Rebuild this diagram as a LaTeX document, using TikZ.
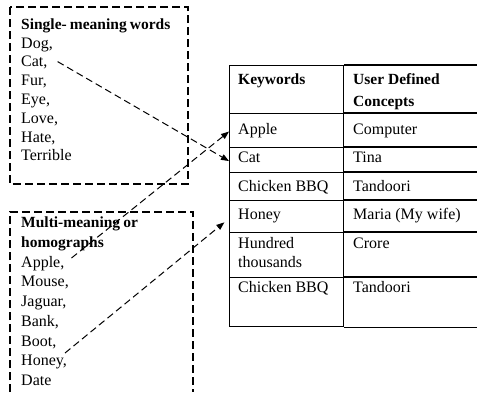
\documentclass[tikz,border=0pt]{standalone}
\usepackage{fontspec}
\setmainfont{Liberation Serif}
\usetikzlibrary{arrows.meta}
\begin{document}
\begin{tikzpicture}[x=1pt,y=-1pt,
  txt/.style={anchor=west,inner sep=0pt,text height=11.5pt,text depth=3pt,font=\fontsize{16}{18}\selectfont},
  btxt/.style={txt,font=\fontsize{15.5}{18}\selectfont\bfseries},
  wbox/.style={draw,line width=1.1pt,dash pattern=on 8pt off 4pt},
  conn/.style={draw,line width=1pt,dash pattern=on 7pt off 4pt,-{Triangle[length=8pt,width=6pt]}},
  cell/.style={draw,line width=1.1pt,rectangle,inner sep=0pt,anchor=north west,minimum width=114pt},
  tline/.style={draw,line width=1.1pt}]
\useasboundingbox (0,0) rectangle (477,392);

% single-meaning box
\draw[wbox] (10,7) rectangle (188,184);
\node[btxt] (h1) at (21,25) {\spaceskip=0.2em Single- meaning words};
\node[txt] (dog) at (21,43.8) {Dog,};
\node[txt] (cat) at (21,62.6) {Cat,};
\node[txt] (fur) at (21,81.4) {Fur,};
\node[txt] (eye) at (21,100.2) {Eye,};
\node[txt] (love) at (21,119) {Love,};
\node[txt] (hate) at (21,137.8) {Hate,};
\node[txt] (terr) at (21,156.6) {Terrible};

% multi-meaning box
\draw[wbox] (10,392) -- (10,212) -- (193,212) -- (193,392);
\node[btxt] (h2a) at (21,223) {\spaceskip=0.2em Multi-meaning or};
\node[btxt] (h2b) at (21,243) {homographs};
\node[txt] (apple) at (21,263) {Apple,};
\node[txt] (mouse) at (21,282) {Mouse,};
\node[txt] (jag) at (21,302) {Jaguar,};
\node[txt] (bank) at (21,322) {Bank,};
\node[txt] (boot) at (21,342) {Boot,};
\node[txt] (honey) at (21,361) {Honey,};
\node[txt] (date) at (21,381) {Date};

% table: keyword column cells
\coordinate (redge) at (477,65);
\node[cell,minimum height=48pt] (khead) at (229,65) {};
\node[cell,minimum height=34pt] (kapple) at (229,113) {};
\node[cell,minimum height=25pt] (kcat) at (229,147) {};
\node[cell,minimum height=28pt] (kchick) at (229,172) {};
\node[cell,minimum height=32pt] (khoney) at (229,200) {};
\node[cell,minimum height=45pt] (khund) at (229,232) {};
\node[cell,minimum height=49pt] (kchick2) at (229,277) {};
% concept column lines
\foreach \c in {khead,kapple,kcat,kchick,khoney,khund,kchick2}
  \draw[tline] (\c.north east) -- (\c.north east -| redge);
\draw[tline] (kchick2.south east) -- (kchick2.south east -| redge);

% table texts
\node[btxt] (t1) at (238,80) {Keywords};
\node[btxt] (t2) at (353,80) {User Defined};
\node[btxt] (t2b) at (353,102) {Concepts};
\node[txt] (ta) at (238,130) {Apple};
\node[txt] (tb) at (353,130) {Computer};
\node[txt] (tc) at (238,158) {Cat};
\node[txt] (td) at (353,158) {Tina};
\node[txt] (te) at (238,187) {Chicken BBQ};
\node[txt] (tf) at (353,187) {Tandoori};
\node[txt] (tg) at (238,215) {Honey};
\node[txt] (th) at (353,215) {Maria (My wife)};
\node[txt] (ti) at (238,244) {Hundred};
\node[txt] (ti2) at (238,263) {thousands};
\node[txt] (tj) at (353,244) {Crore};
\node[txt] (tk) at (238,288) {Chicken BBQ};
\node[txt] (tl) at (353,288) {Tandoori};

% connectors
\draw[conn] ([xshift=10pt,yshift=1pt]cat.east) -- ([yshift=-1pt]kcat.west);
\draw[conn] ([xshift=7pt,yshift=5pt]apple.east) -- ([yshift=-1pt]kapple.west);
\draw[conn,shorten >=6pt] ([xshift=-2pt,yshift=8pt]honey.east) -- ([yshift=-2pt]khoney.west);
\end{tikzpicture}
\end{document}
